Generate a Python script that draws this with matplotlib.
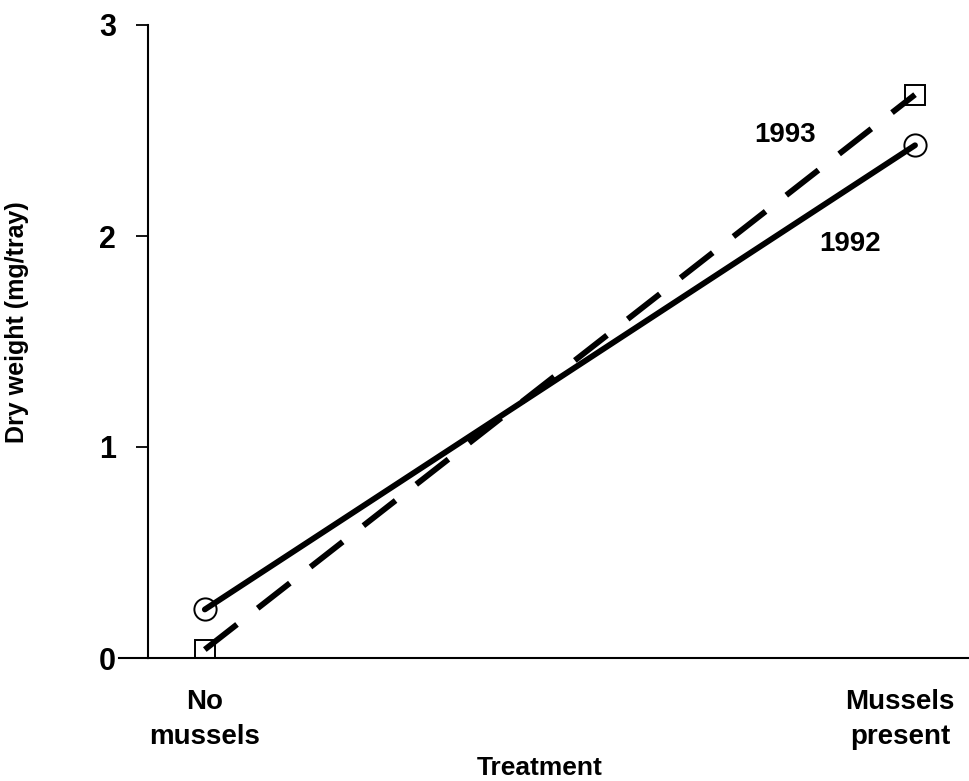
import numpy as np
import matplotlib.pyplot as plt
from matplotlib.transforms import ScaledTranslation

plt.rcParams['font.family'] = ['Liberation Sans', 'DejaVu Sans']
plt.rcParams['font.weight'] = 'bold'

# treatment positions and categories
treatments = ["No\nmussels", "Mussels\npresent"]
x_pos = [0, 1]

# dry weight (mg/tray)
dw_1992 = [0.23, 2.43]
dw_1993 = [0.04, 2.67]

yticks = [0, 1, 2, 3]

fig = plt.figure(figsize=(9.69, 7.81), dpi=100)
# axes box in pixel units of the reference
ax = fig.add_axes([148 / 969, 1 - 658 / 781, (969 - 148) / 969, (658 - 25) / 781])

# open markers underneath, lines run into them
ax.plot(x_pos, dw_1992, ls='none', marker='o', ms=16, mfc='white', mec='black', mew=1.4, zorder=2)
ax.plot(x_pos, dw_1993, ls='none', marker='s', ms=15, mfc='white', mec='black', mew=1.4, zorder=2)
ax.plot(x_pos, dw_1992, color='black', lw=4.2, solid_capstyle='round', zorder=3)
ax.plot(x_pos, dw_1993, color='black', lw=4.2, dashes=(7, 4.5), dash_capstyle='butt', zorder=3)

ax.text(0.817, 2.48, "1993", fontsize=20, ha='center', va='center')
ax.text(0.908, 1.96, "1992", fontsize=20, ha='center', va='center')

ax.set_xlim(-0.080, 1.076)
ax.set_ylim(0, 3)

ax.set_xticks(x_pos, treatments, fontsize=20, linespacing=1.45)
ax.tick_params(axis='x', length=0, pad=22)
# "Mussels present" sits a little left of its point in the original
lab = ax.get_xticklabels()[1]
lab.set_transform(lab.get_transform() + ScaledTranslation(-0.15, 0, fig.dpi_scale_trans))
ax.set_yticks(yticks)
ax.tick_params(axis='y', labelsize=22, length=9, width=1.3, pad=14)

ax.spines['top'].set_visible(False)
ax.spines['right'].set_visible(False)
ax.spines['left'].set_linewidth(1.5)
ax.spines['bottom'].set_linewidth(1.5)
# bottom axis line extends left of the y axis
ax.plot([-0.035, 0], [0, 0], color='black', lw=1.5, transform=ax.transAxes, clip_on=False)

ax.set_xlabel("Treatment", fontsize=19, fontweight='bold')
ax.xaxis.set_label_coords((540 - 148) / (969 - 148), -0.155)
ax.set_ylabel("Dry weight (mg/tray)", fontsize=18, fontweight='bold')
ax.yaxis.set_label_coords(-0.145, 0.53)

plt.savefig("out.png", dpi=100)
